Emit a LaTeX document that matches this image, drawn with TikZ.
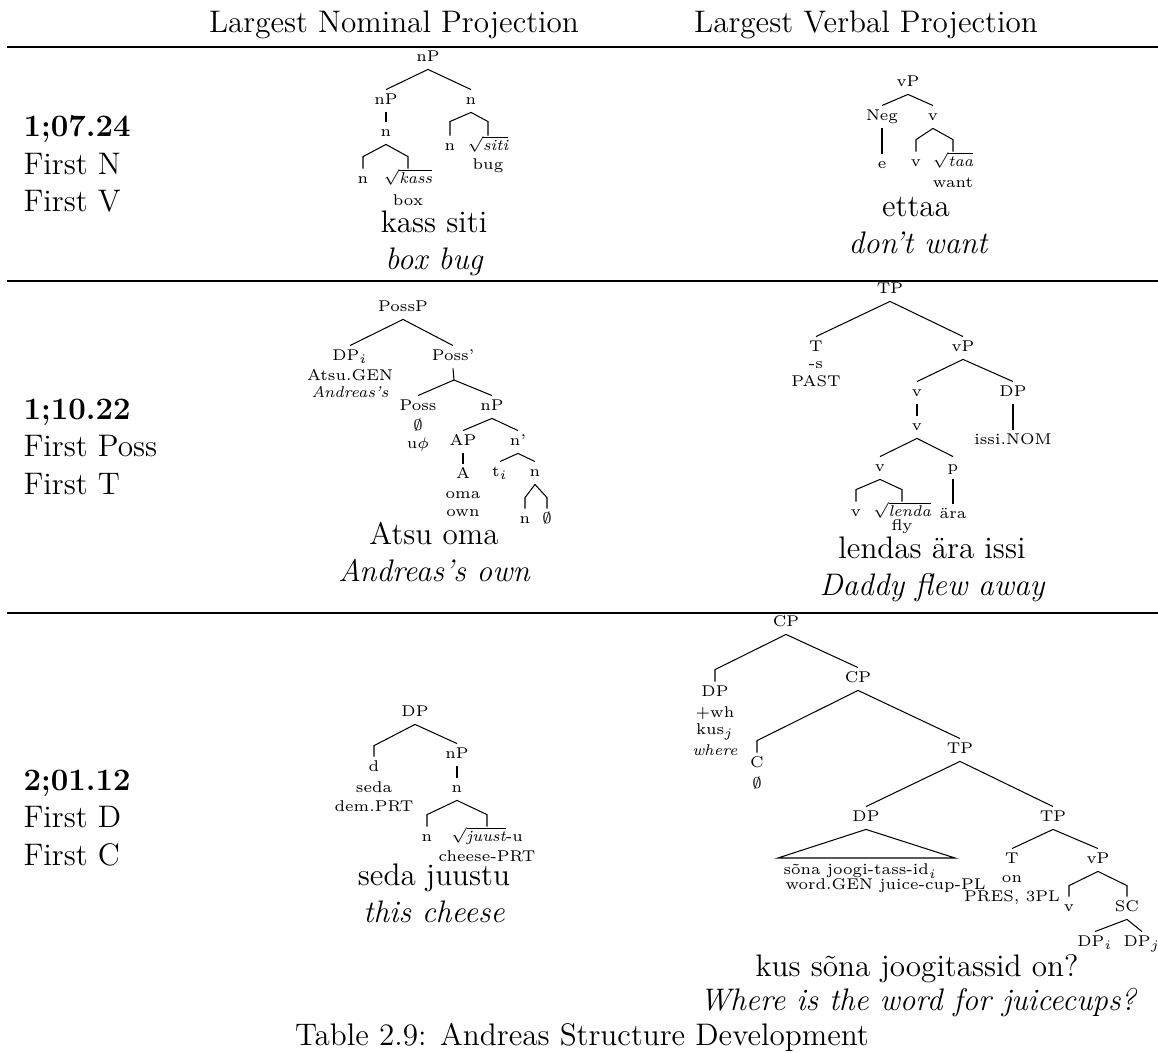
\documentclass[tikz,border=0pt]{standalone}
\usepackage{amsmath}
\usepackage{fontspec}
\usetikzlibrary{positioning}

% branch that bends down vertically onto the child
\newcommand{\elbow}[3]{\draw (#1.south) -- ([yshift=#3]#2.north) -- (#2.north);}

\begin{document}
\begin{tikzpicture}[x=0.385pt, y=-0.385pt,
	tn/.style={font=\fontsize{6}{7.2}\selectfont, inner sep=1.2pt, text height=4.4pt, text depth=1.6pt},
	gl/.style={font=\fontsize{6}{7.2}\selectfont, inner sep=0pt},
	big/.style={font=\fontsize{12}{14.5}\selectfont, inner sep=0pt, anchor=base},
	rowlab/.style={big, anchor=base west},
	tabrule/.style={line width=0.5pt}
]
\useasboundingbox (0,0) rectangle (1158,1053);

% table frame
\node[big] (headnom) at (394,33) {Largest Nominal Projection};
\node[big] (headverb) at (866,33) {Largest Verbal Projection};
\draw[tabrule, line width=0.9pt] (7,47) -- (1160,47);
\draw[tabrule] (7,281) -- (1160,281);
\draw[tabrule] (7,613) -- (1160,613);

\node[rowlab] (ageone) at (23,137) {\textbf{1;07.24}};
\node[rowlab] (firstN) at (23,175) {First N};
\node[rowlab] (firstV) at (23,212) {First V};
\node[rowlab] (agetwo) at (23,420) {\textbf{1;10.22}};
\node[rowlab] (firstPoss) at (23,457) {First Poss};
\node[rowlab] (firstT) at (23,495) {First T};
\node[rowlab] (agethree) at (23,791) {\textbf{2;01.12}};
\node[rowlab] (firstD) at (23,828) {First D};
\node[rowlab] (firstC) at (23,866) {First C};

% row 1, nominal
\node[tn] (aNP) at (428,58) {nP};
\node[tn] (aNPl) at (386,101) {nP};
\node[tn] (aNr) at (471,101) {n};
\node[tn] (aNl) at (386,133) {n};
\node[tn] (aNll) at (363,180) {n};
\node[tn] (aKass) at (408,180) {$\sqrt{\mathit{kass}}$};
\node[gl] (aBox) at (408,200) {box};
\node[tn] (aNrl) at (450,147) {n};
\node[tn] (aSiti) at (488,147) {$\sqrt{\mathit{siti}}$};
\node[gl] (aBug) at (488,166) {bug};
\draw (aNP.south) -- (aNPl.north);
\draw (aNP.south) -- (aNr.north);
\draw (aNPl.south) -- (aNl.north);
\elbow{aNl}{aNll}{4.6pt}
\elbow{aNl}{aKass}{4.6pt}
\elbow{aNr}{aNrl}{5.4pt}
\elbow{aNr}{aSiti}{5.4pt}
\node[big] (aSent) at (434,233) {kass siti};
\node[big] (aGloss) at (434,270) {\itshape box bug};

% row 1, verbal
\node[tn] (bVP) at (908,83) {vP};
\node[tn] (bNeg) at (882,117) {Neg};
\node[tn] (bV) at (933,117) {v};
\node[tn] (bE) at (882,165) {e};
\node[tn] (bVl) at (916,163) {v};
\node[tn] (bTaa) at (953,163) {$\sqrt{\mathit{taa}}$};
\node[gl] (bWant) at (953,183) {want};
\draw (bVP.south) -- (bNeg.north);
\draw (bVP.south) -- (bV.north);
\draw (bNeg.south) -- (bE.north);
\elbow{bV}{bVl}{4.6pt}
\elbow{bV}{bTaa}{4.6pt}
\node[big] (bSent) at (916,217) {ettaa};
\node[big] (bGloss) at (918,254) {\itshape don't want};

% row 2, nominal
\node[tn] (cPossP) at (403,308) {PossP};
\node[tn] (cDP) at (350,357) {DP$_i$};
\node[gl] (cAtsu) at (350,375) {Atsu.GEN};
\node[gl] (cAndreas) at (350,392) {\itshape Andreas's};
\node[tn] (cPossbar) at (453,357) {Poss'};
\coordinate (cSplit) at (454,380);
\node[tn] (cPoss) at (418,407) {Poss};
\node[gl] (cPossEmpty) at (418,425) {$\emptyset$};
\node[gl] (cPhi) at (418,445) {u$\phi$};
\node[tn] (cNP) at (492,407) {nP};
\node[tn] (cAP) at (463,442) {AP};
\node[tn] (cNbar) at (518,442) {n'};
\node[tn] (cA) at (463,475) {A};
\node[gl] (cOma) at (463,495) {oma};
\node[gl] (cOwn) at (463,513) {own};
\node[tn] (cT) at (500,473) {t$_i$};
\node[tn] (cN) at (535,473) {n};
\node[tn] (cNl) at (525,520) {n};
\node[tn] (cNEmpty) at (547,520) {$\emptyset$};
\draw (cPossP.south) -- (cDP.north);
\draw (cPossP.south) -- (cPossbar.north);
\draw (cPossbar.south) -- (cSplit);
\draw (cSplit) -- (cPoss.north);
\draw (cSplit) -- (cNP.north);
\draw (cNP.south) -- (cAP.north);
\draw (cNP.south) -- (cNbar.north);
\draw (cAP.south) -- (cA.north);
\draw (cNbar.south) -- (cT.north);
\draw (cNbar.south) -- (cN.north);
\elbow{cN}{cNl}{4.2pt}
\elbow{cN}{cNEmpty}{4.2pt}
\node[big] (cSent) at (434,545) {Atsu oma};
\node[big] (cGloss) at (434,582) {\itshape Andreas's own};

% row 2, verbal
\node[tn] (dTP) at (890,290) {TP};
\node[tn] (dT) at (816,348) {T};
\node[gl] (dS) at (816,365) {-s};
\node[gl] (dPast) at (816,381) {PAST};
\node[tn] (dvP) at (963,348) {vP};
\node[tn] (dV) at (917,393) {v};
\node[tn] (dDP) at (1013,393) {DP};
\node[tn] (dVu) at (917,427) {v};
\node[tn] (dIssi) at (1013,441) {issi.NOM};
\node[tn] (dVl) at (880,468) {v};
\node[tn] (dP) at (953,468) {p};
\node[tn] (dAra) at (953,515) {ära};
\node[tn] (dVll) at (856,513) {v};
\node[tn] (dLenda) at (902,513) {$\sqrt{\mathit{lenda}}$};
\node[gl] (dFly) at (902,527) {fly};
\draw (dTP.south) -- (dT.north);
\draw (dTP.south) -- (dvP.north);
\draw (dvP.south) -- (dV.north);
\draw (dvP.south) -- (dDP.north);
\draw (dV.south) -- (dVu.north);
\draw (dDP.south) -- (dIssi.north);
\draw (dVu.south) -- (dVl.north);
\draw (dVu.south) -- (dP.north);
\draw (dP.south) -- (dAra.north);
\elbow{dVl}{dVll}{4.6pt}
\elbow{dVl}{dLenda}{4.6pt}
\node[big] (dSent) at (932,559) {lendas ära issi};
\node[big] (dGloss) at (932,596) {\itshape Daddy flew away};

% row 3, nominal
\node[tn] (eDP) at (415,713) {DP};
\node[tn] (eD) at (374,768) {d};
\node[gl] (eSeda) at (374,787) {seda};
\node[gl] (eDem) at (374,806) {dem.PRT};
\node[tn] (eNP) at (457,755) {nP};
\node[tn] (eN) at (457,789) {n};
\node[tn] (eNl) at (427,838) {n};
\node[tn] (eJuust) at (487,838) {$\sqrt{\smash[b]{\mathit{juust}}}$-u};
\node[gl] (eCheese) at (487,856) {cheese-PRT};
\elbow{eDP}{eD}{4.2pt}
\draw (eDP.south) -- (eNP.north);
\draw (eNP.south) -- (eN.north);
\elbow{eN}{eNl}{4.6pt}
\elbow{eN}{eJuust}{4.6pt}
\node[big] (eSent) at (434,886) {seda juustu};
\node[big] (eGloss) at (434,923) {\itshape this cheese};

% row 3, verbal
\node[tn] (fCP) at (786,623) {CP};
\node[tn] (fDP) at (715,693) {DP};
\node[gl] (fWh) at (715,713) {+wh};
\node[gl] (fKus) at (715,732) {kus$_j$};
\node[gl] (fWhere) at (715,750) {\itshape where};
\node[tn] (fCPl) at (858,679) {CP};
\node[tn] (fC) at (757,764) {C};
\node[gl] (fCEmpty) at (757,783) {$\emptyset$};
\node[tn] (fTP) at (960,750) {TP};
\node[tn] (fDPs) at (866,818) {DP};
\coordinate (fTriL) at (778,858);
\coordinate (fTriR) at (955,858);
\node[gl, anchor=west] (fSona) at (783,871) {sõna joogi-tass-id$_i$};
\node[gl, anchor=west] (fWord) at (785,886) {word.GEN juice-cup-PL};
\node[tn] (fTPl) at (1053,818) {TP};
\node[tn] (fT) at (1012,860) {T};
\node[gl] (fOn) at (1012,879) {on};
\node[gl] (fPres) at (1012,898) {PRES, 3PL};
\node[tn] (fvP) at (1098,860) {vP};
\node[tn] (fV) at (1069,908) {v};
\node[tn] (fSC) at (1127,908) {SC};
\node[tn] (fDPi) at (1095,943) {DP$_i$};
\node[tn] (fDPj) at (1142,943) {DP$_j$};
\elbow{fCP}{fDP}{4.6pt}
\draw (fCP.south) -- (fCPl.north);
\elbow{fCPl}{fC}{4.6pt}
\draw (fCPl.south) -- (fTP.north);
\draw (fTP.south) -- (fDPs.north);
\draw (fTP.south) -- (fTPl.north);
\draw (fTriL) -- (fDPs.south) -- (fTriR) -- cycle;
\draw (fTPl.south) -- (fT.north);
\draw (fTPl.south) -- (fvP.north);
\elbow{fvP}{fV}{4.2pt}
\elbow{fvP}{fSC}{4.2pt}
\draw (fSC.south) -- (fDPi.north);
\draw (fSC.south) -- (fDPj.north);
\node[big] (fSent) at (917,977) {kus sõna joogitassid on?};
\node[big] (fGloss) at (918,1011) {\itshape Where is the word for juicecups?};

\node[big] (caption) at (582,1046) {Table 2.9: Andreas Structure Development};
\end{tikzpicture}
\end{document}
